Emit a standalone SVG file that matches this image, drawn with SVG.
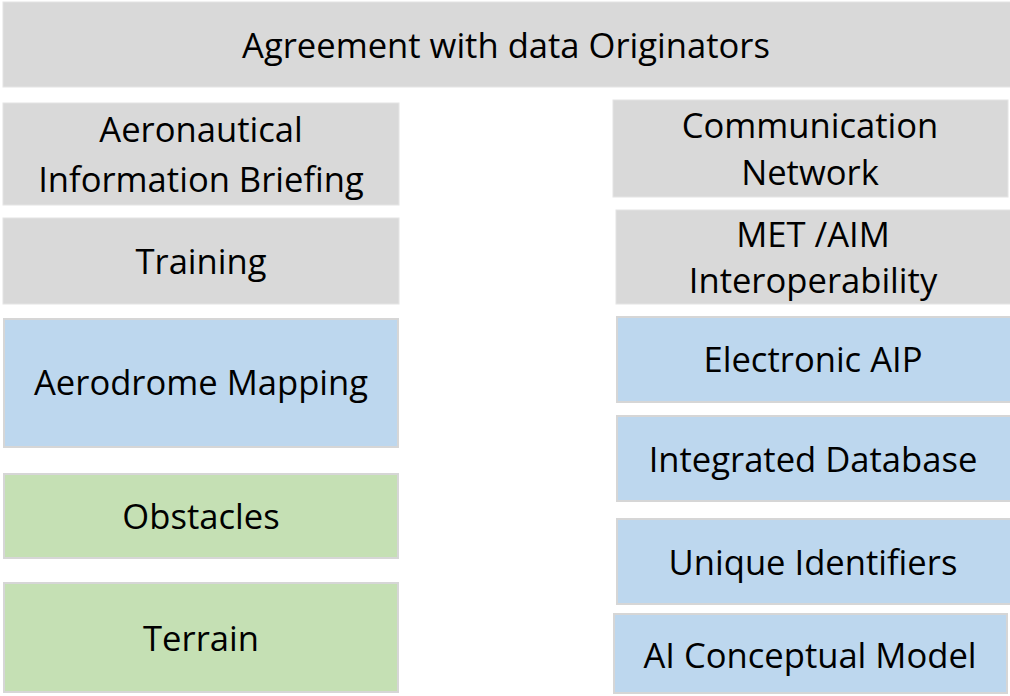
<svg xmlns="http://www.w3.org/2000/svg" width="1010" height="696" viewBox="0 0 1010 696">
<style>
.g{fill:#d9d9d9;stroke:#e4e4e4;stroke-width:1}
.b{fill:#bdd7ee;stroke:#d6d6d6;stroke-width:2}
.n{fill:#c5e0b4;stroke:#d6d6d6;stroke-width:2}
text{font-family:"Open Sans",Lato,sans-serif;font-size:34.6px;fill:#000;text-anchor:middle;font-variant-ligatures:none}
</style>
<rect width="1010" height="696" fill="#ffffff"/>
<g id="connectors"></g>
<g id="agreement"><rect class="g" x="3" y="2" width="1010" height="85"/><text x="506" y="58">Agreement with data Originators</text></g>
<g id="aeronautical"><rect class="g" x="3" y="103" width="396" height="102"/><text x="201" y="142">Aeronautical</text><text x="201" y="192">Information Briefing</text></g>
<g id="training"><rect class="g" x="3" y="218" width="396" height="86"/><text x="201" y="274">Training</text></g>
<g id="aerodrome"><rect class="b" x="4" y="319" width="394" height="128"/><text x="201" y="395">Aerodrome Mapping</text></g>
<g id="obstacles"><rect class="n" x="4" y="474" width="394" height="84"/><text x="201" y="529">Obstacles</text></g>
<g id="terrain"><rect class="n" x="4" y="583" width="394" height="109"/><text x="201" y="651">Terrain</text></g>
<g id="communication"><rect class="g" x="613" y="100" width="395" height="97"/><text x="810" y="138">Communication</text><text x="810" y="185">Network</text></g>
<g id="metaim"><rect class="g" x="616" y="210" width="396" height="94"/><text x="813" y="247">MET /AIM</text><text x="813" y="293">Interoperability</text></g>
<g id="eaip"><rect class="b" x="617" y="317" width="396" height="85"/><text x="813" y="372">Electronic AIP</text></g>
<g id="integrated"><rect class="b" x="617" y="416" width="396" height="85"/><text x="813" y="472">Integrated Database</text></g>
<g id="unique"><rect class="b" x="617" y="519" width="396" height="85"/><text x="813" y="575">Unique Identifiers</text></g>
<g id="aicm"><rect class="b" x="614" y="614" width="393" height="79"/><text x="810" y="668">AI Conceptual Model</text></g>
</svg>
